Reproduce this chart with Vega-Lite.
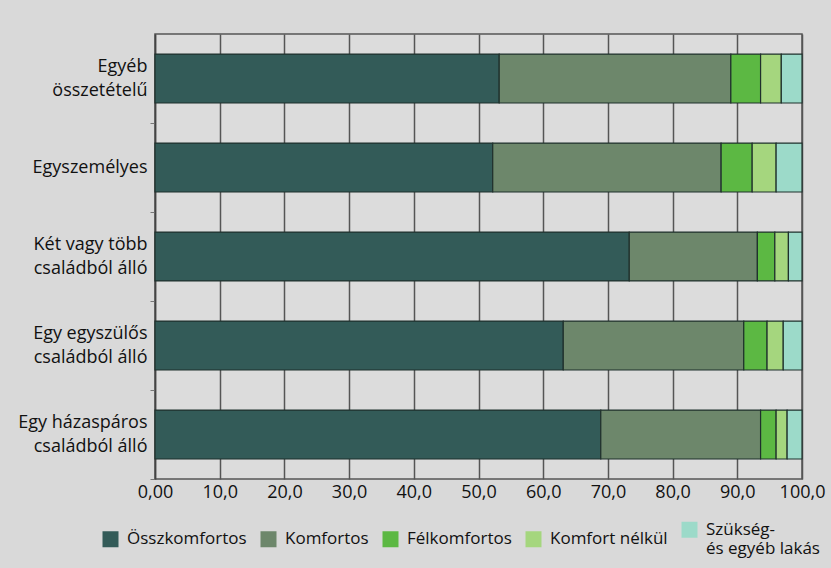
{
  "$schema": "https://vega.github.io/schema/vega-lite/v6.json",
  "autosize": "none",
  "width": 647,
  "height": 445,
  "padding": {"left": 155, "top": 34, "right": 29, "bottom": 89},
  "background": "#d9d9d9",
  "config": {
    "font": "Open Sans",
    "view": {"stroke": "#555555", "strokeWidth": 1.5, "fill": "#dcdcdc"}
  },
  "data": {
    "values": [
      {"household": "Egyéb\nösszetételű", "type": "Összkomfortos", "rank": 1, "value": 53.2},
      {"household": "Egyéb\nösszetételű", "type": "Komfortos", "rank": 2, "value": 35.8},
      {"household": "Egyéb\nösszetételű", "type": "Félkomfortos", "rank": 3, "value": 4.6},
      {"household": "Egyéb\nösszetételű", "type": "Komfort nélkül", "rank": 4, "value": 3.2},
      {"household": "Egyéb\nösszetételű", "type": "Szükség-\nés egyéb lakás", "rank": 5, "value": 3.2},
      {"household": "Egyszemélyes", "type": "Összkomfortos", "rank": 1, "value": 52.2},
      {"household": "Egyszemélyes", "type": "Komfortos", "rank": 2, "value": 35.3},
      {"household": "Egyszemélyes", "type": "Félkomfortos", "rank": 3, "value": 4.8},
      {"household": "Egyszemélyes", "type": "Komfort nélkül", "rank": 4, "value": 3.7},
      {"household": "Egyszemélyes", "type": "Szükség-\nés egyéb lakás", "rank": 5, "value": 4.0},
      {"household": "Két vagy több\ncsaládból álló", "type": "Összkomfortos", "rank": 1, "value": 73.3},
      {"household": "Két vagy több\ncsaládból álló", "type": "Komfortos", "rank": 2, "value": 19.8},
      {"household": "Két vagy több\ncsaládból álló", "type": "Félkomfortos", "rank": 3, "value": 2.7},
      {"household": "Két vagy több\ncsaládból álló", "type": "Komfort nélkül", "rank": 4, "value": 2.1},
      {"household": "Két vagy több\ncsaládból álló", "type": "Szükség-\nés egyéb lakás", "rank": 5, "value": 2.1},
      {"household": "Egy egyszülős\ncsaládból álló", "type": "Összkomfortos", "rank": 1, "value": 63.1},
      {"household": "Egy egyszülős\ncsaládból álló", "type": "Komfortos", "rank": 2, "value": 27.9},
      {"household": "Egy egyszülős\ncsaládból álló", "type": "Félkomfortos", "rank": 3, "value": 3.6},
      {"household": "Egy egyszülős\ncsaládból álló", "type": "Komfort nélkül", "rank": 4, "value": 2.5},
      {"household": "Egy egyszülős\ncsaládból álló", "type": "Szükség-\nés egyéb lakás", "rank": 5, "value": 2.9},
      {"household": "Egy házaspáros\ncsaládból álló", "type": "Összkomfortos", "rank": 1, "value": 68.9},
      {"household": "Egy házaspáros\ncsaládból álló", "type": "Komfortos", "rank": 2, "value": 24.7},
      {"household": "Egy házaspáros\ncsaládból álló", "type": "Félkomfortos", "rank": 3, "value": 2.4},
      {"household": "Egy házaspáros\ncsaládból álló", "type": "Komfort nélkül", "rank": 4, "value": 1.7},
      {"household": "Egy házaspáros\ncsaládból álló", "type": "Szükség-\nés egyéb lakás", "rank": 5, "value": 2.3}
    ]
  },
  "mark": {"type": "bar", "stroke": "#1f302c", "strokeWidth": 1.2},
  "encoding": {
    "y": {
      "field": "household",
      "type": "nominal",
      "sort": ["Egyéb\nösszetételű", "Egyszemélyes", "Két vagy több\ncsaládból álló", "Egy egyszülős\ncsaládból álló", "Egy házaspáros\ncsaládból álló"],
      "scale": {"paddingInner": 0.45, "paddingOuter": 0.225},
      "axis": {
        "title": null,
        "labelExpr": "split(datum.label, '\\n')",
        "labelFontSize": 18,
        "labelLineHeight": 24,
        "labelColor": "#111111",
        "labelPadding": 3,
        "labelLimit": 300,
        "tickOffset": 44.5,
        "labelOffset": {"condition": {"test": "datum.value == 'Egyszemélyes'", "value": -44.5}, "value": -56.5},
        "tickSize": 5,
        "tickColor": "#777777",
        "domainColor": "#444444",
        "domainWidth": 1.5
      }
    },
    "x": {
      "field": "value",
      "type": "quantitative",
      "stack": "zero",
      "scale": {"domain": [0, 100], "nice": false},
      "axis": {
        "title": null,
        "values": [0, 10, 20, 30, 40, 50, 60, 70, 80, 90, 100],
        "labelExpr": "datum.value == 0 ? '0,00' : replace(format(datum.value, '.1f'), '.', ',')",
        "labelFontSize": 18,
        "labelColor": "#111111",
        "labelPadding": 4,
        "ticks": false,
        "domain": false,
        "grid": true,
        "gridColor": "#555555",
        "gridWidth": 1.5,
        "labelFlush": false
      }
    },
    "color": {
      "field": "type",
      "type": "nominal",
      "sort": ["Összkomfortos", "Komfortos", "Félkomfortos", "Komfort nélkül", "Szükség-\nés egyéb lakás"],
      "scale": {
        "domain": ["Összkomfortos", "Komfortos", "Félkomfortos", "Komfort nélkül", "Szükség-\nés egyéb lakás"],
        "range": ["#335b58", "#6d876b", "#5cb843", "#a5d67e", "#9cdac9"]
      },
      "legend": {
        "title": null,
        "orient": "none",
        "legendX": -53,
        "legendY": 487,
        "direction": "horizontal",
        "symbolType": "square",
        "symbolSize": 256,
        "symbolStrokeWidth": 0,
        "labelFontSize": 17,
        "labelColor": "#111111",
        "labelLimit": 300,
        "labelOffset": 8,
        "labelExpr": "split(datum.label, '\\n')",
        "columnPadding": 13
      }
    },
    "order": {"field": "rank", "type": "quantitative"}
  }
}
